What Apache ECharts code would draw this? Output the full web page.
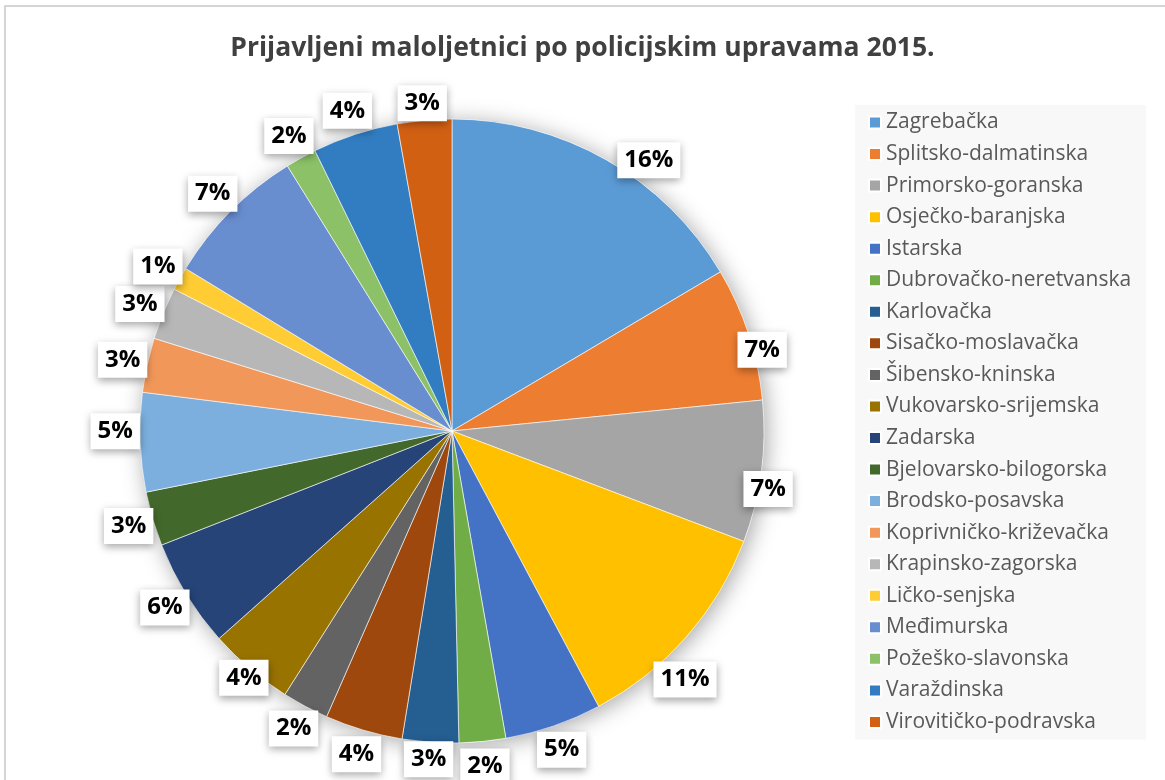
<!DOCTYPE html>
<html>
  <head>
    <meta charset="UTF-8" />
    <title>Prijavljeni maloljetnici 2015</title>
    <script src="https://cdn.jsdelivr.net/npm/echarts@6/dist/echarts.min.js"></script>
    <style>
      html, body { margin: 0; padding: 0; background: #fff; }
    </style>
  </head>
  <body>
    <div id="pieChart" style="width: 1165px; height: 780px"></div>
  </body>
  <script>
    // police administrations, in drawing order (clockwise from top)
    const categories = [
      'Zagrebačka', 'Splitsko-dalmatinska', 'Primorsko-goranska', 'Osječko-baranjska',
      'Istarska', 'Dubrovačko-neretvanska', 'Karlovačka', 'Sisačko-moslavačka',
      'Šibensko-kninska', 'Vukovarsko-srijemska', 'Zadarska', 'Bjelovarsko-bilogorska',
      'Brodsko-posavska', 'Koprivničko-križevačka', 'Krapinsko-zagorska', 'Ličko-senjska',
      'Međimurska', 'Požeško-slavonska', 'Varaždinska', 'Virovitičko-podravska'
    ];
    // shares
    const shares = [
      16.4, 6.9, 7.3, 11.4,
      5.0, 2.4, 2.9, 4.0,
      2.4, 4.4, 5.6, 2.8,
      5.1, 2.8, 2.7, 1.2,
      7.4, 1.6, 4.4, 2.8
    ];
    const colors = [
      '#5B9BD5', '#ED7D31', '#A5A5A5', '#FFC000',
      '#4472C4', '#70AD47', '#255E91', '#9E480E',
      '#636363', '#997300', '#264478', '#43682B',
      '#7CAFDD', '#F1975A', '#B7B7B7', '#FFCD33',
      '#698ED0', '#8CC168', '#327DC2', '#D26012'
    ];

    // small nudges for labels that Excel placed off the radial line (px)
    const labelNudge = {
      'Zagrebačka': [30, 22],
      'Splitsko-dalmatinska': [-10, 24],
      'Primorsko-goranska': [-18, 14],
      'Osječko-baranjska': [-20, 26],
      'Karlovačka': [0, -8],
      'Vukovarsko-srijemska': [10, -10],
      'Brodsko-posavska': [0, -12],
      'Virovitičko-podravska': [0, 8]
    };

    const center = [452, 431];
    const R = 312;

    let myChart = echarts.init(document.getElementById('pieChart'));

    const pieData = categories.map((name, i) => ({ name: name, value: shares[i] }));
    const labelData = pieData.map(d => labelNudge[d.name]
      ? Object.assign({}, d, { label: { offset: labelNudge[d.name] } })
      : d);

    myChart.setOption({
      color: colors,
      title: {
        text: 'Prijavljeni maloljetnici po policijskim upravama 2015.',
        left: 'center',
        top: 30,
        textStyle: {
          fontFamily: 'Open Sans',
          fontWeight: 'bold',
          fontSize: 26.5,
          color: '#404040'
        }
      },
      legend: {
        data: categories,
        orient: 'vertical',
        left: 855,
        top: 105,
        backgroundColor: '#f8f8f8',
        padding: [7, 15, 7, 13],
        itemWidth: 12,
        itemHeight: 12,
        itemGap: 10.55,
        itemTextGap: 7,
        icon: 'rect',
        textStyle: {
          fontFamily: 'Open Sans',
          fontSize: 21,
          lineHeight: 20,
          color: '#595959'
        }
      },
      graphic: [
        {
          type: 'rect',
          silent: true,
          shape: { x: 5, y: 6, width: 1200, height: 800 },
          style: { fill: 'none', stroke: '#c8c8c8', lineWidth: 1.5 }
        }
      ],
      series: [
        {
          // the pie itself
          name: 'Maloljetnici',
          type: 'pie',
          center: center,
          radius: R,
          startAngle: 90,
          clockwise: true,
          z: 3,
          label: { show: false },
          labelLine: { show: false },
          emphasis: { disabled: true },
          itemStyle: { borderColor: '#ffffff', borderWidth: 0.6 },
          data: pieData
        },
        {
          // soft shadow behind the pie
          type: 'pie',
          center: center,
          radius: R,
          silent: true,
          z: 1,
          label: { show: false },
          labelLine: { show: false },
          itemStyle: {
            color: '#ffffff',
            shadowBlur: 22,
            shadowOffsetX: 3,
            shadowOffsetY: 3,
            shadowColor: 'rgba(0,0,0,0.35)'
          },
          data: [{ value: 1, name: '' }]
        },
        {
          // invisible ring that carries the percentage labels just outside the pie
          type: 'pie',
          center: center,
          radius: [R + 2, R + 42],
          startAngle: 90,
          clockwise: true,
          silent: true,
          z: 5,
          avoidLabelOverlap: false,
          itemStyle: { color: 'rgba(0,0,0,0)', borderWidth: 0 },
          labelLine: { show: false },
          label: {
            show: true,
            position: 'inside',
            formatter: p => Math.round(p.percent) + '%',
            fontFamily: 'Open Sans',
            fontWeight: 'bold',
            fontSize: 24,
            lineHeight: 26,
            color: '#000000',
            backgroundColor: '#ffffff',
            padding: [5, 7, 5, 7],
            shadowBlur: 8,
            shadowOffsetX: 0,
            shadowOffsetY: 3,
            shadowColor: 'rgba(0,0,0,0.35)'
          },
          data: labelData
        }
      ]
    });
  </script>
</html>
